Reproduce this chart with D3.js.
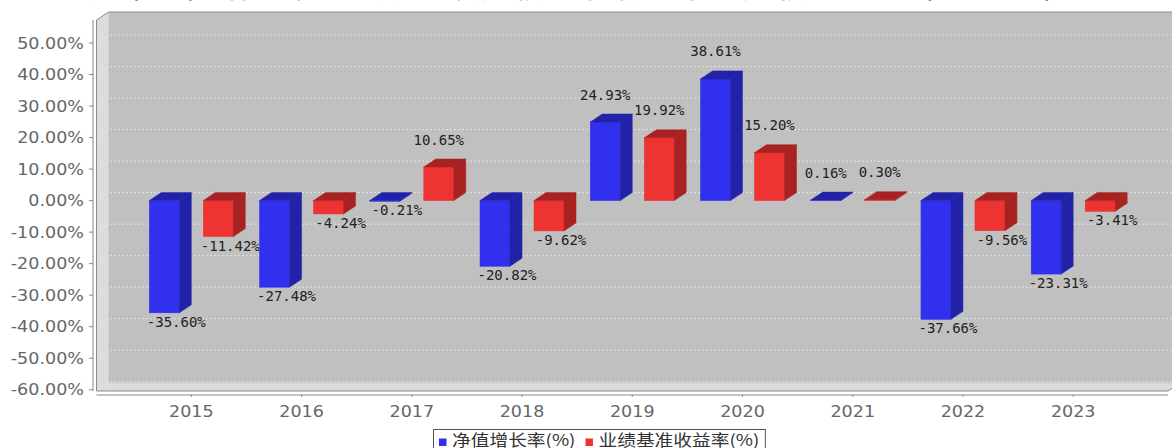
<!DOCTYPE html>
<html>
<head>
<meta charset="utf-8">
<script src="https://cdn.jsdelivr.net/npm/d3@7"></script>
<style>
  body { margin: 0; background: #fff; }
  svg { display: block; }
</style>
</head>
<body>
<svg id="chart" width="1172" height="448"></svg>
<script>
// data
const years = ["2015", "2016", "2017", "2018", "2019", "2020", "2021", "2022", "2023"];
const navGrowth = [-35.60, -27.48, -0.21, -20.82, 24.93, 38.61, 0.16, -37.66, -23.31];
const benchmark = [-11.42, -4.24, 10.65, -9.62, 19.92, 15.20, 0.30, -9.56, -3.41];
const seriesNames = ["净值增长率(%)", "业绩基准收益率(%)"];
const yTicks = [50, 40, 30, 20, 10, 0, -10, -20, -30, -40, -50, -60];
const title = "历年净值增长率与同期业绩比较基准收益率的比较（2015年-2023年）";

// layout
const width = 1172, height = 448;
const plot = {left: 96.5, right: 1168, top: 20, bottom: 391};
const dx = 12, dy = 8;      // 3d offset
const stretch = 1.17;       // text is drawn a bit wide in the original
const colors = [
    {front: "#3030ee", dark: "#2222a8"},
    {front: "#ee3333", dark: "#a82222"}
];

const svg = d3.select("#chart");

const x = d3.scaleBand()
    .domain(years)
    .range([plot.left, plot.right])
    .paddingInner(0.238)
    .paddingOuter(0.479);

const xs = d3.scaleBand()
    .domain([0, 1])
    .range([0, x.bandwidth()])
    .paddingInner(0.444);

const y = d3.scaleLinear()
    .domain([-60.4, 57.3])
    .range([plot.bottom, plot.top]);

// title (cut off at the top, only the feet of the glyphs show)
svg.append("text")
    .attr("transform", `translate(590,-2.3) scale(${stretch},1)`)
    .attr("text-anchor", "middle")
    .style("font-family", "'Noto Sans CJK SC'")
    .style("font-size", "28px")
    .attr("fill", "#222")
    .text(title);

// walls
const backRight = plot.right + dx;
svg.append("rect")
    .attr("x", plot.left + dx).attr("y", plot.top - dy)
    .attr("width", backRight - plot.left - dx)
    .attr("height", plot.bottom - plot.top)
    .attr("fill", "#c0c0c0");

svg.append("polygon")
    .attr("points", [[plot.left, plot.top], [plot.left + dx, plot.top - dy],
        [plot.left + dx, plot.bottom - dy], [plot.left, plot.bottom]].join(" "))
    .attr("fill", "#dcdcdc");

svg.append("polygon")
    .attr("points", [[plot.left, plot.bottom], [plot.left + dx, plot.bottom - dy],
        [backRight, plot.bottom - dy], [plot.right, plot.bottom]].join(" "))
    .attr("fill", "#dcdcdc");

// gridlines
const grid = svg.append("g");
yTicks.forEach(t => {
    const yy = y(t);
    grid.append("polyline")
        .attr("points", [[plot.left, yy], [plot.left + dx, yy - dy], [backRight, yy - dy]].join(" "))
        .attr("fill", "none")
        .attr("stroke", "#ececec")
        .attr("stroke-width", 0.8)
        .attr("stroke-dasharray", "2,2");
});

// wall edges
svg.append("line")
    .attr("x1", plot.left + dx).attr("x2", plot.left + dx)
    .attr("y1", plot.top - dy).attr("y2", plot.bottom - dy)
    .attr("stroke", "#cfcfcf");
svg.append("line")
    .attr("x1", plot.left + dx).attr("x2", backRight)
    .attr("y1", plot.bottom - dy).attr("y2", plot.bottom - dy)
    .attr("stroke", "#cfcfcf");
svg.append("polygon")
    .attr("points", [[plot.left, plot.top], [plot.left + dx, plot.top - dy],
        [backRight, plot.top - dy], [backRight, plot.bottom - dy],
        [plot.right, plot.bottom], [plot.left, plot.bottom]].join(" "))
    .attr("fill", "none")
    .attr("stroke", "#8a8a8a")
    .attr("stroke-width", 1);

// bars
const series = [navGrowth, benchmark];
const bars = svg.append("g");
years.forEach((yr, i) => {
    series.forEach((vals, s) => {
        const v = vals[i];
        const x0 = x(yr) + xs(s);
        const w = xs.bandwidth();
        const yTop = y(Math.max(v, 0));
        const yBot = y(Math.min(v, 0));
        const c = colors[s];
        bars.append("rect")
            .attr("x", x0).attr("y", yTop)
            .attr("width", w).attr("height", Math.max(yBot - yTop, 0.5))
            .attr("fill", c.front)
            .attr("stroke", c.front).attr("stroke-width", 0.5);
        bars.append("polygon")
            .attr("points", [[x0 + w, yTop], [x0 + w + dx, yTop - dy],
                [x0 + w + dx, yBot - dy], [x0 + w, yBot]].join(" "))
            .attr("fill", c.dark)
            .attr("stroke", c.dark).attr("stroke-width", 0.5);
        bars.append("polygon")
            .attr("points", [[x0, yTop], [x0 + dx, yTop - dy],
                [x0 + w + dx, yTop - dy], [x0 + w, yTop]].join(" "))
            .attr("fill", c.dark)
            .attr("stroke", c.dark).attr("stroke-width", 0.5);

        // value label
        const lx = v >= 0 ? x0 + w / 2 : x0 + w / 2 + dx;
        const ly = v >= 0 ? yTop - 22.5 : yBot + 14;
        bars.append("text")
            .attr("x", lx).attr("y", ly)
            .attr("text-anchor", "middle")
            .style("font-family", "'DejaVu Sans Mono'")
            .style("font-size", "14px")
            .attr("fill", "#222")
            .text(v.toFixed(2) + "%");
    });
});

// y axis
const yAxisX = 93;
const yAxis = svg.append("g");
yAxis.append("line")
    .attr("x1", yAxisX).attr("x2", yAxisX)
    .attr("y1", plot.top).attr("y2", plot.bottom)
    .attr("stroke", "#888");
yTicks.forEach(t => {
    yAxis.append("line")
        .attr("x1", yAxisX - 4).attr("x2", yAxisX)
        .attr("y1", y(t)).attr("y2", y(t))
        .attr("stroke", "#888");
    yAxis.append("text")
        .attr("transform", `translate(84,${y(t) + 5.5}) scale(${stretch},1)`)
        .attr("text-anchor", "end")
        .style("font-family", "'DejaVu Sans'")
        .style("font-size", "15px")
        .attr("fill", "#666")
        .text(t.toFixed(2) + "%");
});

// x axis
const xAxisY = 395;
const xAxis = svg.append("g");
xAxis.append("line")
    .attr("x1", plot.left).attr("x2", plot.right)
    .attr("y1", xAxisY).attr("y2", xAxisY)
    .attr("stroke", "#888");
years.forEach(yr => {
    const cx = x(yr) + x.bandwidth() / 2;
    xAxis.append("line")
        .attr("x1", cx).attr("x2", cx)
        .attr("y1", xAxisY).attr("y2", xAxisY + 2)
        .attr("stroke", "#888");
    xAxis.append("text")
        .attr("transform", `translate(${cx},416.5) scale(${stretch},1)`)
        .attr("text-anchor", "middle")
        .style("font-family", "'DejaVu Sans'")
        .style("font-size", "15px")
        .attr("fill", "#666")
        .text(yr);
});

// legend
const legend = svg.append("g");
const box = legend.append("rect")
    .attr("x", 433.5).attr("y", 429.5)
    .attr("height", 30)
    .attr("fill", "#fff")
    .attr("stroke", "#555");
let cur = 439;
seriesNames.forEach((name, s) => {
    legend.append("rect")
        .attr("x", cur).attr("y", 438.5)
        .attr("width", 7.5).attr("height", 7.5)
        .attr("fill", colors[s].front);
    const t = legend.append("text")
        .attr("transform", `translate(${cur + 13},445.5) scale(${stretch},1)`)
        .style("font-family", "'Noto Sans CJK SC'")
        .style("font-size", "16px")
        .attr("fill", "#333")
        .text(name);
    cur += 13 + t.node().getComputedTextLength() * stretch + 10;
});
box.attr("width", cur - 433.5 - 4);
</script>
</body>
</html>
